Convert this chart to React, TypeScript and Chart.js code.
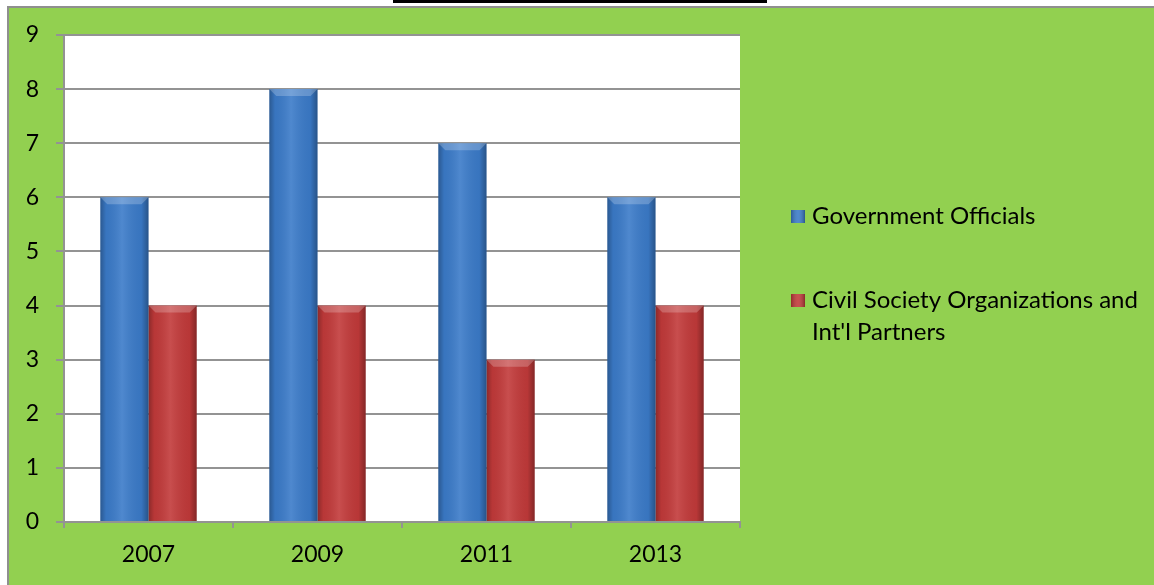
import React, { useEffect, useRef } from "react";
import { Chart, registerables } from "chart.js";

Chart.register(...registerables);

const categories = ["2007", "2009", "2011", "2013"];
const governmentOfficials = [6, 8, 7, 6];
const civilSociety = [4, 4, 3, 4];
const seriesNames = ["Government Officials", "Civil Society Organizations and Int'l Partners"];
const seriesColors = ["#3b7bc9", "#c23a3a"];
const yTicks = [0, 1, 2, 3, 4, 5, 6, 7, 8, 9];

const FONT = "Lato, 'Open Sans', sans-serif";
const GREEN = "#92d050";
const GRID = "#939393";

const backgroundPlugin = {
  id: "bgPlugin",
  beforeDraw(chart: any) {
    const { ctx, width, height, chartArea } = chart;
    ctx.save();
    ctx.fillStyle = "#ffffff";
    ctx.fillRect(0, 0, width, height);
    ctx.fillStyle = "#8f8f8f";
    ctx.fillRect(7, 6, width - 7, 2);
    ctx.fillRect(7, 6, 2, height - 6);
    ctx.fillStyle = GREEN;
    ctx.fillRect(9, 8, width - 9, height - 8);
    ctx.fillStyle = "#000000";
    ctx.fillRect(393, 0, 374, 3);
    ctx.fillStyle = "#ffffff";
    ctx.fillRect(chartArea.left, chartArea.top, chartArea.right - chartArea.left, chartArea.bottom - chartArea.top);
    ctx.restore();
  },
};

const barShadePlugin = {
  id: "barShade",
  afterDatasetsDraw(chart: any) {
    const { ctx } = chart;
    ctx.save();
    chart.data.datasets.forEach((_: any, di: number) => {
      const meta = chart.getDatasetMeta(di);
      meta.data.forEach((el: any) => {
        const left = el.x - el.width / 2;
        const right = el.x + el.width / 2;
        const top = Math.min(el.y, el.base);
        const bottom = Math.max(el.y, el.base);
        const g = ctx.createLinearGradient(left, 0, right, 0);
        g.addColorStop(0, "rgba(0,0,0,0.28)");
        g.addColorStop(0.12, "rgba(0,0,0,0.05)");
        g.addColorStop(0.45, "rgba(255,255,255,0.10)");
        g.addColorStop(0.85, "rgba(0,0,0,0.05)");
        g.addColorStop(1, "rgba(0,0,0,0.32)");
        ctx.fillStyle = g;
        ctx.fillRect(left, top, right - left, bottom - top);
        const b = 7;
        ctx.fillStyle = "rgba(255,255,255,0.22)";
        ctx.beginPath();
        ctx.moveTo(left, top);
        ctx.lineTo(right, top);
        ctx.lineTo(right - b, top + b);
        ctx.lineTo(left + b, top + b);
        ctx.closePath();
        ctx.fill();
      });
    });
    ctx.restore();
  },
};

const legendPlugin = {
  id: "customLegend",
  afterDraw(chart: any) {
    const { ctx } = chart;
    ctx.save();
    ctx.font = `24px ${FONT}`;
    ctx.textBaseline = "middle";
    ctx.textAlign = "left";
    const x0 = 791;
    const textX = 812;
    const maxW = 338;
    const lineH = 32;
    const starts = [216, 300];
    chart.data.datasets.forEach((ds: any, i: number) => {
      const words = String(ds.label).split(" ");
      const lines: string[] = [];
      let cur = "";
      words.forEach((w) => {
        const t = cur ? cur + " " + w : w;
        if (ctx.measureText(t).width > maxW && cur) {
          lines.push(cur);
          cur = w;
        } else cur = t;
      });
      if (cur) lines.push(cur);
      const cy = starts[i];
      const g = ctx.createLinearGradient(x0, 0, x0 + 14, 0);
      g.addColorStop(0, "rgba(0,0,0,0.25)");
      g.addColorStop(0.5, "rgba(255,255,255,0.1)");
      g.addColorStop(1, "rgba(0,0,0,0.3)");
      ctx.fillStyle = ds.backgroundColor;
      ctx.fillRect(x0, cy - 6, 14, 13);
      ctx.fillStyle = g;
      ctx.fillRect(x0, cy - 6, 14, 13);
      ctx.fillStyle = "#000000";
      lines.forEach((ln, k) => ctx.fillText(ln, textX, cy + k * lineH));
    });
    ctx.restore();
  },
};

export default function App() {
  const ref = useRef<HTMLCanvasElement | null>(null);
  useEffect(() => {
    if (!ref.current) return;
    const chart = new Chart(ref.current, {
      type: "bar",
      data: {
        labels: categories,
        datasets: [
          { label: seriesNames[0], data: governmentOfficials, backgroundColor: seriesColors[0], borderWidth: 0 },
          { label: seriesNames[1], data: civilSociety, backgroundColor: seriesColors[1], borderWidth: 0 },
        ],
      },
      options: {
        responsive: false,
        animation: false,
        devicePixelRatio: 1,
        layout: { padding: { left: 0, right: 414, top: 35, bottom: 0 } },
        datasets: { bar: { categoryPercentage: 0.57, barPercentage: 1 } },
        plugins: { legend: { display: false }, tooltip: { enabled: false }, title: { display: false } },
        scales: {
          x: {
            afterFit: (s: any) => { s.height = 63; },
            grid: { display: true, drawOnChartArea: false, drawTicks: true, tickLength: 6, offset: true, color: GRID, lineWidth: 2 },
            border: { display: true, color: GRID, width: 2 },
            ticks: { color: "#000", font: { family: FONT, size: 23 }, padding: 13 },
          },
          y: {
            min: 0,
            max: 9,
            afterFit: (s: any) => { s.width = 64; },
            afterBuildTicks: (s: any) => { s.ticks = yTicks.map((v) => ({ value: v })); },
            grid: { color: GRID, lineWidth: 2, tickLength: 8 },
            border: { display: true, color: GRID, width: 2 },
            ticks: { color: "#000", font: { family: FONT, size: 23 }, padding: 17, stepSize: 1 },
          },
        },
      },
      plugins: [backgroundPlugin, barShadePlugin, legendPlugin],
    });
    return () => chart.destroy();
  }, []);
  return (
    <div style={{ position: "fixed", left: 0, top: 0, width: 1154, height: 585 }}>
      <canvas ref={ref} width={1154} height={585} />
    </div>
  );
}
